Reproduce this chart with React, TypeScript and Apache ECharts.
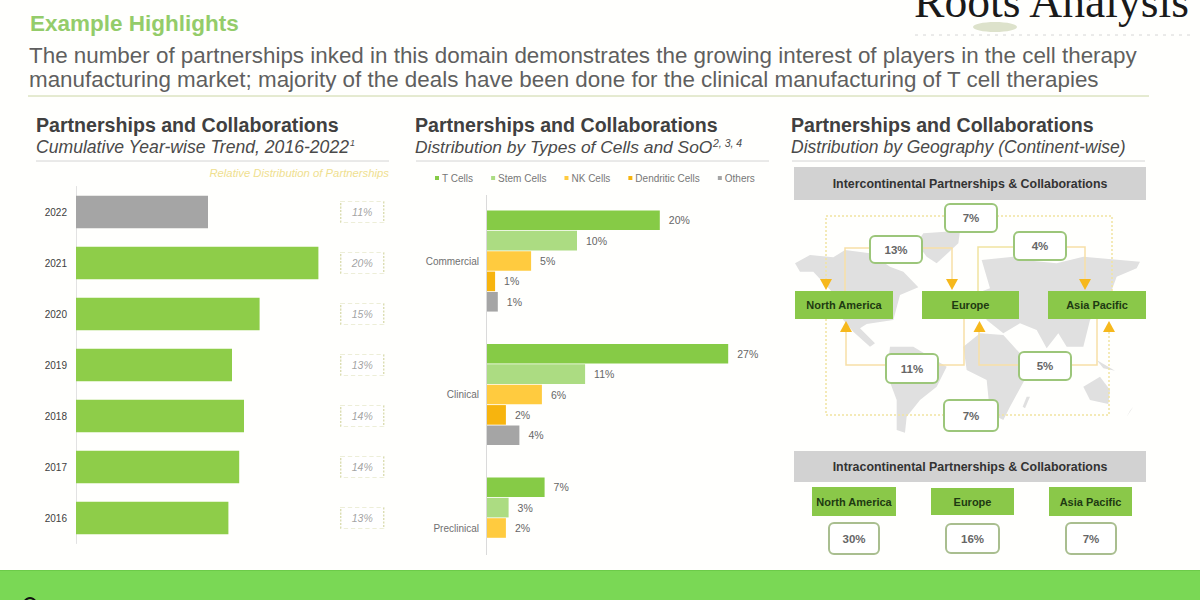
import React, { useEffect, useRef } from "react";
import * as echarts from "echarts";

const YEARS = ["2022", "2021", "2020", "2019", "2018", "2017", "2016"];
const YEAR_SHARE = [11.0, 20.2, 15.3, 13.0, 14.0, 13.6, 12.7];

const STAGES = ["Commercial", "Clinical", "Preclinical"];
const CELL_TYPES = ["T Cells", "Stem Cells", "NK Cells", "Dendritic Cells", "Others"];
const CELL_COLORS = ["#86CB46", "#ACDC82", "#FFCB3F", "#F7B40E", "#A5A5A5"];
const T_CELLS = [19.2, 26.8, 6.4];
const STEM_CELLS = [10.0, 10.9, 2.4];
const NK_CELLS = [4.9, 6.1, 2.1];
const DENDRITIC_CELLS = [0.9, 2.1, null];
const OTHERS = [1.2, 3.6, null];
const T_LABELS = ["20%", "27%", "7%"];
const STEM_LABELS = ["10%", "11%", "3%"];
const NK_LABELS = ["5%", "6%", "2%"];
const DENDRITIC_LABELS = ["1%", "2%", ""];
const OTHER_LABELS = ["1%", "4%", ""];

const INTER_REGIONS = ["North America", "Europe", "Asia Pacific"];
const INTER_SHARES = ["7%", "13%", "4%", "11%", "5%", "7%"];
const INTRA_SHARES = ["30%", "16%", "7%"];

const FONT = "Liberation Sans";

const text = (t: string, x: number, y: number, size: number, fill: string, extra: any = {}) => ({
  type: "text",
  x,
  y,
  z: 5,
  style: {
    text: t,
    fill,
    fontSize: size,
    fontFamily: extra.family || FONT,
    fontWeight: extra.weight || "normal",
    fontStyle: extra.italic ? "italic" : "normal",
    align: extra.align || "left",
    verticalAlign: "middle",
  },
});
const rect = (x: number, y: number, w: number, h: number, fill: string, extra: any = {}) => ({
  type: "rect",
  z: extra.z ?? 4,
  shape: { x, y, width: w, height: h, r: extra.r || 0 },
  style: { fill, stroke: extra.stroke, lineWidth: extra.lineWidth },
});
const hline = (x1: number, x2: number, y: number, stroke: string, w = 1) => ({
  type: "line",
  z: 2,
  shape: { x1, y1: y, x2, y2: y },
  style: { stroke, lineWidth: w },
});
const pipe = (points: number[][], stroke: string, dash: number[]) => ({
  type: "polyline",
  z: 3,
  shape: { points },
  style: { fill: "none", stroke, lineWidth: 1.5, lineDash: dash },
});
const arrow = (x: number, y: number, up: boolean) => ({
  type: "polygon",
  z: 3,
  shape: {
    points: up
      ? [[x, y], [x - 6, y + 11], [x + 6, y + 11]]
      : [[x - 6, y], [x + 6, y], [x, y + 11]],
  },
  style: { fill: "#F6B81C" },
});
// land shapes are traced on a 3x crop of the map, origin (790, 200)
const land = (pts: number[][]) => ({
  type: "polygon",
  z: 1,
  shape: { points: pts.map(([a, b]) => [790 + a / 3, 200 + b / 3]) },
  style: { fill: "#E0E0E0" },
});
const callout = (x: number, y: number, w: number, h: number, t: string, stroke = "#9CC67A") => [
  rect(x, y, w, h, "#FFFFFF", { r: 5, stroke, lineWidth: 2 }),
  text(t, x + w / 2, y + h / 2, 11.5, "#666666", { weight: "bold", align: "center" }),
];
const greenBox = (x: number, y: number, w: number, h: number, t: string) => [
  rect(x, y, w, h, "#8AC849"),
  text(t, x + w / 2, y + h / 2, 11, "#1E3A12", { weight: "bold", align: "center" }),
];

const buildGraphics = () => {
  const lineGold = "#F1E3A0";
  const lineOrange = "#F8DFA6";
  return [
    rect(0, 570, 1200, 30, "#7AD855", { z: 100 }),
    { ...hline(0, 1200, 570.5, "#6CCB49"), z: 101 },
    {
      type: "circle",
      z: 102,
      shape: { cx: 30, cy: 604, r: 6 },
      style: { fill: "none", stroke: "#111111", lineWidth: 2 },
    },

    text("Roots Analysis", 914, 1, 45.6, "#1A1A1A", { family: "Liberation Serif" }),
    { type: "ellipse", z: 1, shape: { cx: 995, cy: 27, rx: 22, ry: 5 }, style: { fill: "#DDE2CB" } },
    { ...hline(915, 1190, 35, "#D6D6D6"), style: { stroke: "#D6D6D6", lineWidth: 1, lineDash: [3, 5] } },

    text("Example Highlights", 30, 23, 22.5, "#94CC6A", { weight: "bold" }),
    text(
      "The number of partnerships inked in this domain demonstrates the growing interest of players in the cell therapy",
      29, 55, 22.4, "#5F5F5F"
    ),
    text(
      "manufacturing market; majority of the deals have been done for the clinical manufacturing of T cell therapies",
      29, 79, 22.4, "#5F5F5F"
    ),
    hline(28, 1149, 96, "#CBD6A4"),

    text("Partnerships and Collaborations", 36, 125, 19.6, "#404040", { weight: "bold" }),
    text("Cumulative Year-wise Trend, 2016-2022", 36, 147, 17.6, "#4A4A4A", { italic: true }),
    text("1", 350, 143, 9, "#4A4A4A", { italic: true }),
    hline(36, 389, 161, "#D4D4D4"),
    text("Relative Distribution of Partnerships", 389, 173, 11.3, "#EFE08F", { italic: true, align: "right" }),

    text("Partnerships and Collaborations", 415, 125, 19.6, "#404040", { weight: "bold" }),
    text("Distribution by Types of Cells and SoO", 415, 147, 17.4, "#4A4A4A", { italic: true }),
    text("2, 3, 4", 713, 143, 10.5, "#4A4A4A", { italic: true }),
    hline(416, 769, 161, "#D4D4D4"),
    { type: "line", z: 2, shape: { x1: 486.5, y1: 195, x2: 486.5, y2: 555 }, style: { stroke: "#DADADA", lineWidth: 1 } },

    text("Partnerships and Collaborations", 791, 125, 19.6, "#404040", { weight: "bold" }),
    text("Distribution by Geography (Continent-wise)", 791, 147, 17.5, "#4A4A4A", { italic: true }),
    hline(792, 1145, 161, "#D4D4D4"),

    rect(794, 167, 352, 33, "#D2D2D2"),
    text("Intercontinental Partnerships & Collaborations", 970, 183.5, 12.4, "#333333", { weight: "bold", align: "center" }),

    land([[15,190],[60,165],[130,172],[165,150],[240,160],[300,200],[340,215],[385,262],[330,285],[310,360],[230,372],[210,385],[255,430],[240,440],[190,395],[160,360],[130,280],[70,215],[30,215]]),
    land([[300,440],[370,440],[470,500],[440,560],[390,600],[350,650],[345,698],[320,690],[320,600],[290,520]]),
    land([[400,100],[510,92],[505,130],[440,190],[410,170],[380,130]]),
    land([[575,180],[670,170],[700,180],[800,190],[880,170],[1050,185],[1040,205],[980,230],[960,285],[900,360],[880,440],[830,440],[805,400],[770,445],[740,390],[690,370],[640,400],[590,360],[560,280],[600,265]]),
    land([[520,440],[570,400],[640,405],[690,460],[720,510],[660,620],[640,660],[600,640],[590,540],[530,510]]),
    land([[710,590],[720,590],[705,625],[698,620]]),
    land([[880,560],[930,530],[960,570],[955,612],[900,600]]),
    land([[920,480],[975,512],[940,505]]),
    land([[1020,632],[1030,620],[1010,650]]),

    pipe([[826, 280], [826, 216], [945, 216]], lineGold, [2, 2]),
    pipe([[997, 216], [1112, 216], [1112, 291]], lineGold, [2, 2]),
    pipe([[845, 291], [845, 248], [870, 248]], lineOrange, []),
    pipe([[922, 248], [952, 248], [952, 280]], lineOrange, []),
    pipe([[978, 291], [978, 247], [1014, 247]], lineGold, []),
    pipe([[1067, 247], [1085, 247], [1085, 280]], lineOrange, []),
    pipe([[846, 332], [846, 365], [886, 365]], lineOrange, []),
    pipe([[938, 365], [964, 365], [964, 319]], lineOrange, []),
    pipe([[979, 332], [979, 365], [1019, 365]], lineOrange, []),
    pipe([[1071, 365], [1097, 365], [1097, 319]], lineOrange, []),
    pipe([[826, 319], [826, 415], [944, 415]], lineGold, [2, 2]),
    pipe([[998, 415], [1109, 415], [1109, 332]], lineGold, [2, 2]),
    arrow(826, 279, false),
    arrow(952, 279, false),
    arrow(1085, 279, false),
    arrow(846, 321, true),
    arrow(979.5, 321, true),
    arrow(1109, 321, true),

    ...greenBox(795, 291, 98, 28, INTER_REGIONS[0]),
    ...greenBox(922, 291, 97, 28, INTER_REGIONS[1]),
    ...greenBox(1048, 291, 98, 28, INTER_REGIONS[2]),
    ...callout(945, 204, 52, 28, INTER_SHARES[0]),
    ...callout(870, 236, 52, 27, INTER_SHARES[1]),
    ...callout(1014, 232, 52, 28, INTER_SHARES[2]),
    ...callout(886, 354, 52, 29, INTER_SHARES[3]),
    ...callout(1019, 352, 52, 28, INTER_SHARES[4]),
    ...callout(944, 400, 54, 31, INTER_SHARES[5]),

    rect(794, 451, 352, 31, "#D2D2D2"),
    text("Intracontinental Partnerships & Collaborations", 970, 467, 12.4, "#333333", { weight: "bold", align: "center" }),
    ...greenBox(812, 487, 84, 29, INTER_REGIONS[0]),
    ...greenBox(931, 488, 83, 27, INTER_REGIONS[1]),
    ...greenBox(1049, 487, 83, 29, INTER_REGIONS[2]),
    ...callout(829, 523, 50, 31, INTRA_SHARES[0], "#A9BE8F"),
    ...callout(946, 524, 53, 29, INTRA_SHARES[1], "#A9BE8F"),
    ...callout(1066, 523, 50, 31, INTRA_SHARES[2], "#A9BE8F"),
  ];
};

const cellSeries = (name: string, idx: number, data: (number | null)[], labels: string[]) => ({
  type: "bar",
  name,
  xAxisIndex: 1,
  yAxisIndex: 1,
  data,
  barWidth: 19.6,
  barGap: "4%",
  itemStyle: { color: CELL_COLORS[idx] },
  label: {
    show: true,
    position: "right",
    distance: 9,
    fontSize: 10.5,
    fontFamily: FONT,
    color: "#666666",
    formatter: (p: any) => labels[p.dataIndex],
  },
});

export default function App() {
  const ref = useRef<HTMLDivElement>(null);
  useEffect(() => {
    document.body.style.margin = "0";
    const chart = echarts.init(ref.current!, null, { renderer: "svg" });
    chart.setOption({
      animation: false,
      backgroundColor: "#FFFFFD",
      textStyle: { fontFamily: FONT },
      legend: {
        data: CELL_TYPES,
        left: 435,
        top: 173,
        icon: "rect",
        itemWidth: 4,
        itemHeight: 4,
        itemGap: 18,
        selectedMode: false,
        padding: 0,
        textStyle: { fontSize: 10, fontFamily: FONT, color: "#777777", padding: [0, 0, 0, -2] },
      },
      grid: [
        { left: 76, top: 186.5, width: 312, height: 357 },
        { left: 487, top: 194.25, width: 270, height: 400.5 },
      ],
      xAxis: [
        { type: "value", gridIndex: 0, min: 0, max: 26, show: false },
        { type: "value", gridIndex: 1, min: 0, max: 30, show: false },
      ],
      yAxis: [
        {
          type: "category",
          gridIndex: 0,
          data: YEARS,
          inverse: true,
          axisTick: { show: false },
          axisLine: { lineStyle: { color: "#E2E2E2" } },
          axisLabel: { fontSize: 10, fontFamily: FONT, color: "#404040", margin: 9 },
        },
        {
          type: "category",
          gridIndex: 1,
          data: STAGES,
          inverse: true,
          axisTick: { show: false },
          axisLine: { show: false },
          axisLabel: { fontSize: 10, fontFamily: FONT, color: "#707070", margin: 8 },
        },
      ],
      series: [
        {
          type: "bar",
          name: "Partnerships",
          xAxisIndex: 0,
          yAxisIndex: 0,
          barWidth: 32.5,
          data: YEAR_SHARE.map((v, i) => ({
            value: v,
            itemStyle: { color: YEARS[i] === "2022" ? "#A5A5A5" : "#8ECD49" },
          })),
        },
        {
          type: "scatter",
          name: "Relative Distribution",
          xAxisIndex: 0,
          yAxisIndex: 0,
          symbol: "rect",
          symbolSize: [43, 21],
          itemStyle: {
            color: "#FFFFFF",
            borderColor: "#D2D4A0",
            borderWidth: 1,
            borderType: [3, 2],
          },
          label: {
            show: true,
            position: "inside",
            fontSize: 10.5,
            fontFamily: FONT,
            fontStyle: "italic",
            color: "#8A8A8A",
            formatter: (p: any) => `${Math.round(p.value[2])}%`,
          },
          data: YEAR_SHARE.map((v, i) => [23.85, YEARS[i], v]),
        },
        cellSeries(CELL_TYPES[0], 0, T_CELLS, T_LABELS),
        cellSeries(CELL_TYPES[1], 1, STEM_CELLS, STEM_LABELS),
        cellSeries(CELL_TYPES[2], 2, NK_CELLS, NK_LABELS),
        cellSeries(CELL_TYPES[3], 3, DENDRITIC_CELLS, DENDRITIC_LABELS),
        cellSeries(CELL_TYPES[4], 4, OTHERS, OTHER_LABELS),
      ],
      graphic: { elements: buildGraphics() },
    });
    return () => chart.dispose();
  }, []);
  return <div ref={ref} style={{ width: 1200, height: 600 }} />;
}
